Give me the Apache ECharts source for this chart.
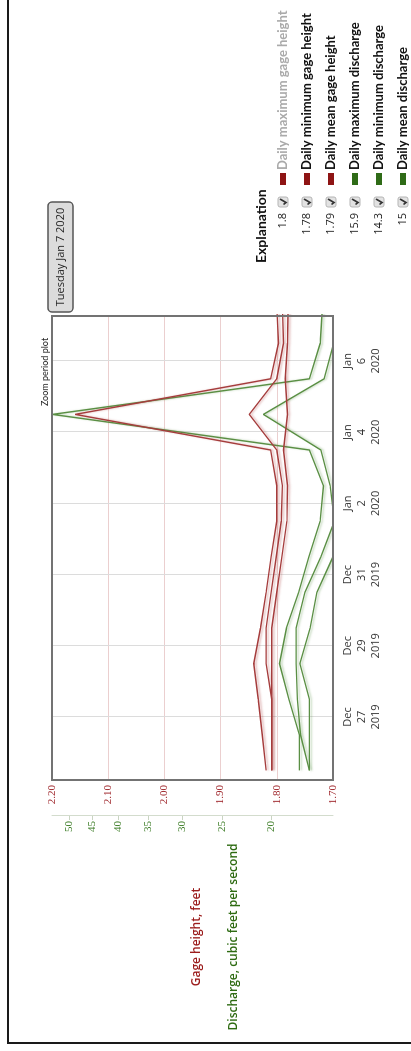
<!DOCTYPE html>
<html>
<head>
<meta charset="utf-8">
<script src="https://cdn.jsdelivr.net/npm/echarts@6/dist/echarts.min.js"></script>
<style>
  html, body { margin: 0; padding: 0; background: #fff; overflow: hidden; width: 411px; height: 1051px; }
  /* the chart is laid out landscape and turned a quarter turn to stand upright */
  #chart { position: absolute; left: 0; top: 0; width: 1051px; height: 411px;
           transform-origin: 0 0; transform: translate(0px, 1051px) rotate(-90deg); }
</style>
</head>
<body>
<div id="chart"></div>
<script>
// Daily statistics, one value per day (plotted at midday)
const days = ['2019-12-25', '2019-12-26', '2019-12-27', '2019-12-28', '2019-12-29', '2019-12-30', '2019-12-31',
              '2020-01-01', '2020-01-02', '2020-01-03', '2020-01-04', '2020-01-05', '2020-01-06', '2020-01-07'];
const gageMax   = [1.819, 1.826, 1.833, 1.841, 1.829, 1.819, 1.810, 1.800, 1.800, 1.811, 2.159, 1.811, 1.797, 1.80];
const gageMin   = [1.809, 1.809, 1.809, 1.809, 1.809, 1.800, 1.791, 1.782, 1.781, 1.788, 1.781, 1.785, 1.781, 1.78];
const gageMean  = [1.809, 1.809, 1.809, 1.819, 1.819, 1.810, 1.801, 1.792, 1.790, 1.800, 1.849, 1.800, 1.788, 1.79];
const dischMax  = [17.64, 17.64, 18.5, 19.3, 18.7, 17.7, 16.9, 16.06, 15.82, 16.86, 53.9, 16.86, 16.05, 15.9];
const dischMin  = [16.86, 16.86, 16.86, 17.6, 16.8, 16.3, 15.15, 14.9, 14.8, 15.0, 15.1, 14.9, 14.6, 14.3];
const dischMean = [16.86, 17.55, 17.8, 17.9, 17.9, 17.2, 16.0, 15.05, 15.35, 16.0, 20.76, 15.77, 15.1, 15.0];

// Axis ticks
const dayTicks = ['2019-12-27', '2019-12-29', '2019-12-31', '2020-01-02', '2020-01-04', '2020-01-06'];
const dischargeTicks = [20, 25, 30, 35, 40, 45, 50];

// Explanation panel
const legendNames  = ['Daily maximum gage height', 'Daily minimum gage height', 'Daily mean gage height',
                      'Daily maximum discharge', 'Daily minimum discharge', 'Daily mean discharge'];
const legendValues = ['1.8', '1.78', '1.79', '15.9', '14.3', '15'];
const cursorLabel = 'Tuesday Jan 7 2020';

const MONTHS = ['Jan','Feb','Mar','Apr','May','Jun','Jul','Aug','Sep','Oct','Nov','Dec'];
const HOUR = 3600 * 1000;
function dayMs(s) { const p = s.split('-').map(Number); return Date.UTC(p[0], p[1] - 1, p[2]); }
function pairs(vals) { return days.map((d, i) => [dayMs(d) + 12 * HOUR, vals[i]]); }

const RED = '#a53c3c', RED_SH = 'rgba(170,60,60,0.35)';
const GREEN = '#5a8f44', GREEN_SH = 'rgba(80,140,60,0.35)';

function lineSeries(name, vals, yIdx, color, shadow) {
  return {
    name, type: 'line', yAxisIndex: yIdx, data: pairs(vals), symbol: 'none', clip: true,
    lineStyle: { color, width: 1.4, shadowColor: shadow, shadowBlur: 2, shadowOffsetY: 2 },
    emphasis: { disabled: true }, silent: true
  };
}

const FONT = 'Open Sans';
const LEG_FONT = 'Lato';
const G = { left: 271, top: 52, width: 464, height: 281 };
const rowY = [283, 307, 331, 355, 379, 403];
const barColors = ['#8e1414', '#8e1414', '#8e1414', '#2f6b17', '#2f6b17', '#2f6b17'];

const graphics = [
  // outer frame
  { type: 'rect', shape: { x: 8, y: 8, width: 1200, height: 600 }, style: { fill: 'none', stroke: '#1a1a1a', lineWidth: 2 }, silent: true },
  // plot frame, above the grid lines
  { type: 'rect', z: 100, shape: { x: G.left, y: G.top, width: G.width, height: G.height }, style: { fill: 'none', stroke: '#737373', lineWidth: 2 }, silent: true },
  { type: 'text', x: 679, y: 45, style: { text: 'Zoom period plot', font: '9px "' + LEG_FONT + '"', fill: '#222', align: 'center', verticalAlign: 'middle' } },
  { type: 'rect', shape: { x: 739, y: 48, width: 110, height: 25, r: 4 }, style: { fill: '#dcdcdc', stroke: '#555', lineWidth: 1.5 } },
  { type: 'text', x: 794, y: 61, style: { text: cursorLabel, font: '11px "' + FONT + '"', fill: '#222', align: 'center', verticalAlign: 'middle' } },
  { type: 'text', x: 114, y: 197, style: { text: 'Gage height, feet', font: '600 12px "' + FONT + '"', fill: '#9b1c1c', align: 'center', verticalAlign: 'middle' } },
  { type: 'text', x: 114, y: 234, style: { text: 'Discharge, cubic feet per second', font: '600 12px "' + FONT + '"', fill: '#2e6b12', align: 'center', verticalAlign: 'middle' } },
  { type: 'text', x: 788, y: 261, style: { text: 'Explanation', font: 'bold 14px "' + LEG_FONT + '"', fill: '#111', align: 'left', verticalAlign: 'middle' } }
];
legendNames.forEach((name, i) => {
  const y = rowY[i];
  graphics.push(
    { type: 'text', x: 838, y, style: { text: legendValues[i], font: '11px "' + FONT + '"', fill: '#222', align: 'right', verticalAlign: 'middle' } },
    { type: 'rect', shape: { x: 844, y: y - 5, width: 10, height: 10, r: 2 }, style: { fill: '#e2e2e2', stroke: '#b5b5b5', lineWidth: 1 } },
    { type: 'polyline', shape: { points: [[846.5, y + 0.5], [848.5, y + 3], [852, y - 3]] }, style: { stroke: '#333', lineWidth: 1.6, fill: 'none' } },
    { type: 'rect', shape: { x: 866, y: y - 3, width: 12, height: 6 }, style: { fill: barColors[i] } },
    { type: 'text', x: 881, y, style: { text: name, font: 'bold 13px "' + LEG_FONT + '"', fill: i === 0 ? '#aaaaaa' : '#111', align: 'left', verticalAlign: 'middle' } }
  );
});

const chart = echarts.init(document.getElementById('chart'), null, { renderer: 'canvas', width: 1051, height: 411 });
chart.setOption({
  animation: false,
  backgroundColor: '#fff',
  grid: { left: G.left, top: G.top, width: G.width, height: G.height, show: false },
  xAxis: {
    type: 'value',
    min: Date.UTC(2019, 11, 25, 5, 32), max: Date.UTC(2020, 0, 7, 6, 20),
    axisLine: { show: false },
    axisTick: { show: false, customValues: dayTicks.map(dayMs) },
    splitLine: { show: true, lineStyle: { color: '#dcdcdc', width: 1 } },
    axisLabel: {
      customValues: dayTicks.map(dayMs), margin: 8, color: '#333', fontFamily: FONT, fontSize: 11, lineHeight: 14,
      formatter: v => { const d = new Date(v); return MONTHS[d.getUTCMonth()] + '\n' + d.getUTCDate() + '\n' + d.getUTCFullYear(); }
    }
  },
  yAxis: [
    {
      type: 'value', min: 1.7, max: 2.2, interval: 0.1, position: 'left',
      axisLine: { show: false }, axisTick: { show: false },
      splitLine: { show: true, lineStyle: { color: '#ebcfcf', width: 1 } },
      axisLabel: { color: '#a0282d', fontFamily: 'Liberation Serif', fontSize: 11, margin: 5, formatter: v => v.toFixed(2) }
    },
    {
      type: 'log', logBase: 10, min: 15.15, max: 54.0, position: 'left', offset: 36,
      axisLine: { show: true, lineStyle: { color: '#d3dccd', width: 1 } },
      axisTick: { show: true, length: 4, customValues: dischargeTicks, lineStyle: { color: '#c9d4c2' } },
      splitLine: { show: false }, minorTick: { show: false },
      axisLabel: { customValues: dischargeTicks, color: '#3d7d27', fontFamily: 'Liberation Serif', fontSize: 11, margin: 5 }
    }
  ],
  series: [
    lineSeries('Daily maximum discharge', dischMax, 1, GREEN, GREEN_SH),
    lineSeries('Daily minimum discharge', dischMin, 1, GREEN, GREEN_SH),
    lineSeries('Daily mean discharge', dischMean, 1, GREEN, GREEN_SH),
    lineSeries('Daily maximum gage height', gageMax, 0, RED, RED_SH),
    lineSeries('Daily minimum gage height', gageMin, 0, RED, RED_SH),
    lineSeries('Daily mean gage height', gageMean, 0, RED, RED_SH)
  ],
  graphic: graphics
});
</script>
</body>
</html>
